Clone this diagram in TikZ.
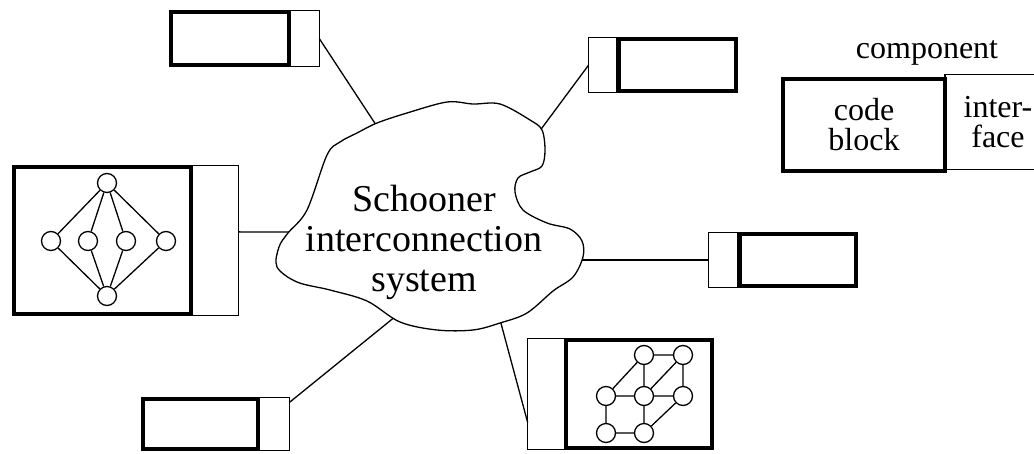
\documentclass[tikz,border=0pt]{standalone}
\usepackage{fontspec}
\setmainfont{Liberation Serif}
\begin{document}
\begin{tikzpicture}[x=1pt,y=-1pt,
  cb/.style={draw, line width=4pt, inner sep=0pt, outer sep=0pt},
  ifc/.style={draw, line width=1.3pt, inner sep=0pt, outer sep=0pt},
  vtx/.style={circle, draw, line width=1.3pt, minimum size=19pt, inner sep=0pt, fill=white},
  wire/.style={line width=1.3pt},
  gedge/.style={line width=1.3pt},
  lbl/.style={font=\fontsize{32}{30}\selectfont, align=center}]
\useasboundingbox (0,0) rectangle (1034,453);

% points where the connectors meet the network cloud
\coordinate (q1) at (380,131);
\coordinate (q2) at (536,136);
\coordinate (q3) at (292,232);
\coordinate (q4) at (576,260);
\coordinate (q5) at (499,316);
\coordinate (q6) at (396,316);

% components: interface (thin) and code block (thick)
\node[ifc, minimum width=29.3pt, minimum height=55.6pt] (i1) at (304.6,38.5) {};
\node[cb, minimum width=118pt, minimum height=53pt] (c1) at (230,38.5) {};

\node[ifc, minimum width=28.3pt, minimum height=54.6pt] (i2) at (602.8,65) {};
\node[cb, minimum width=117pt, minimum height=52pt] (c2) at (677.5,65) {};

\node[ifc, minimum width=47.3pt, minimum height=149.6pt] (i3) at (214.6,240.5) {};
\node[cb, minimum width=177pt, minimum height=147pt] (c3) at (102.5,240.5) {};

\node[ifc, minimum width=29.3pt, minimum height=54.6pt] (i4) at (723.3,260) {};
\node[cb, minimum width=116pt, minimum height=52pt] (c4) at (798,260) {};

\node[ifc, minimum width=38.3pt, minimum height=110.6pt] (i5) at (546.8,394) {};
\node[cb, minimum width=146pt, minimum height=108pt] (c5) at (639,394) {};

\node[ifc, minimum width=31.3pt, minimum height=52.6pt] (i6) at (273.7,424) {};
\node[cb, minimum width=115pt, minimum height=50pt] (c6) at (200.5,424) {};

% connectors
\draw[wire] (i1.east) -- (q1);
\draw[wire] (i2.west) -- (q2);
\draw[wire] (i3.20) -- (q3);
\draw[wire] (i4.west) -- (q4);
\draw[wire] (i5.236.6) -- (q5);
\draw[wire] (i6.54.6) -- (q6);

% the interconnection cloud
\draw[line width=1.3pt, fill=white] plot[smooth cycle, tension=0.55] coordinates {
  (447,102) (473,104) (500,104) (530,120) (542,130) (545,150) (542,166)
  (530,172) (518,178) (515,192) (523,210) (547,223) (570,229) (582,241)
  (583,257) (573,277) (553,291) (527,313) (500,323) (473,330) (437,330)
  (400,322) (367,301) (330,290) (297,282) (277,267) (279,247) (288,233)
  (307,210) (327,155) (340,142) (357,133) (377,123) (407,113)};
\node[font=\fontsize{38}{40}\selectfont, align=center] (sys) at (424,242)
  {Schooner\\interconnection\\system};

% lattice graph inside the left component
\node[vtx] (t) at (107,183) {};
\node[vtx] (m1) at (51,241) {};
\node[vtx] (m2) at (88,241) {};
\node[vtx] (m3) at (126,241) {};
\node[vtx] (m4) at (166,241) {};
\node[vtx] (b) at (107,296) {};
\foreach \m in {m1,m2,m3,m4} {
  \draw[gedge] (t) -- (\m);
  \draw[gedge] (\m) -- (b);
}

% cube graph inside the lower right component
\node[vtx] (u1) at (644,355) {};
\node[vtx] (u2) at (683,355) {};
\node[vtx] (v1) at (606,396) {};
\node[vtx] (v2) at (644,396) {};
\node[vtx] (v3) at (683,396) {};
\node[vtx] (w1) at (606,433) {};
\node[vtx] (w2) at (644,433) {};
\draw[gedge] (u1) -- (u2) (u1) -- (v1) (u1) -- (v2) (u2) -- (v2) (u2) -- (v3)
  (v1) -- (v2) (v2) -- (v3) (v1) -- (w1) (v2) -- (w2) (w1) -- (w2) (v3) -- (w2);

% legend
\node[lbl, anchor=base] (comp) at (927,58) {component};
\node[ifc, lbl, minimum width=106pt, minimum height=94.6pt] (li) at (998,122) {inter-\\face};
\node[cb, lbl, minimum width=162pt, minimum height=92pt] (lc) at (864,125) {code\\block};
\end{tikzpicture}
\end{document}
